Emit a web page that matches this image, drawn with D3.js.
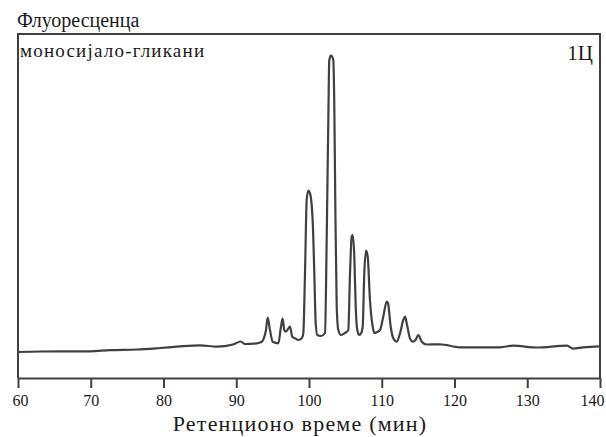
<!DOCTYPE html>
<html>
<head>
<meta charset="utf-8">
<script src="https://cdn.jsdelivr.net/npm/d3@7"></script>
<style>
  body { margin: 0; background: #fff; }
  svg text { font-family: "Liberation Serif", "Times New Roman", "DejaVu Serif", serif; fill: #1a1a1a; }
</style>
</head>
<body>
<div id="chart"></div>
<script>
// retention time (min) and fluorescence (arbitrary units, 0..100 = axis..frame top)
var times = [60.00, 63.02, 69.90, 72.65, 76.36, 79.52, 81.86, 85.02, 87.35, 89.55,
  90.61, 91.20, 92.81, 93.50, 93.81, 94.09, 94.32, 94.64, 95.01, 95.78,
  96.15, 96.38, 96.60, 96.80, 97.39, 97.70, 98.08, 98.53, 99.00, 99.22,
  99.45, 99.68, 99.90, 100.14, 100.51, 100.73, 100.92, 101.14, 101.65, 102.20,
  102.43, 102.65, 102.79, 103.02, 103.34, 103.48, 103.62, 103.81, 104.03, 104.40,
  104.95, 105.40, 105.64, 105.87, 106.01, 106.23, 106.42, 106.64, 106.91, 107.19,
  107.38, 107.60, 107.84, 108.07, 108.38, 108.76, 108.98, 109.35, 109.76, 110.21,
  110.68, 110.86, 111.23, 111.59, 112.06, 112.51, 112.96, 113.20, 113.43, 113.88,
  114.25, 114.64, 115.02, 115.49, 116.18, 118.01, 120.76, 123.09, 126.25, 128.04,
  131.34, 135.46, 136.29, 137.66, 140.00];
var signal = [7.56, 7.70, 7.76, 8.10, 8.28, 8.72, 9.10, 9.51, 9.10, 9.74,
  10.61, 9.88, 10.09, 10.55, 11.63, 13.95, 17.53, 13.95, 10.55, 10.09,
  14.91, 17.24, 13.95, 13.46, 14.91, 12.01, 11.54, 11.05, 11.54, 12.99,
  30.52, 51.74, 54.45, 53.69, 45.44, 30.52, 15.99, 12.50, 12.21, 13.08,
  40.12, 74.13, 92.44, 93.69, 92.44, 78.87, 49.80, 20.73, 13.95, 12.50,
  13.08, 13.95, 30.52, 41.08, 41.57, 35.26, 20.73, 13.95, 12.50, 13.08,
  14.91, 30.52, 37.01, 35.26, 22.67, 14.91, 13.08, 13.37, 13.95, 17.82,
  22.18, 21.72, 14.91, 11.54, 10.55, 12.99, 16.86, 17.82, 15.90, 11.54,
  10.55, 11.05, 12.50, 10.55, 9.74, 9.80, 8.92, 8.92, 8.92, 9.39,
  8.87, 9.39, 8.52, 8.92, 9.22];
var xTicks = [60, 70, 80, 90, 100, 110, 120, 130, 140];

var yTitle = "Флуоресценца";
var xTitle = "Ретенционо време (мин)";
var seriesLabel = "моносијало-гликани";
var panelLabel = "1Ц";

var width = 606, height = 437;
var margin = {top: 34, right: 6, bottom: 59, left: 18};
var innerW = width - margin.left - margin.right,
    innerH = height - margin.top - margin.bottom;

var ink = "#404040";
var serif = "'Liberation Serif', 'Times New Roman', 'DejaVu Serif', serif";

var svg = d3.select("#chart").append("svg")
    .attr("width", width)
    .attr("height", height);

var g = svg.append("g")
    .attr("transform", "translate(" + margin.left + "," + margin.top + ")");

var x = d3.scaleLinear().domain([60, 140]).range([0, innerW]);
var y = d3.scaleLinear().domain([0, 100]).range([innerH, 0]);

// frame (top, left, right)
g.append("path")
    .attr("d", "M0," + innerH + "V0H" + innerW + "V" + innerH)
    .attr("fill", "none")
    .attr("stroke", ink)
    .attr("stroke-width", 2);

// x axis
var xAxis = g.append("g")
    .attr("transform", "translate(0," + innerH + ")")
    .call(d3.axisBottom(x).tickValues(xTicks).tickSize(10).tickPadding(7).tickSizeOuter(0));

xAxis.attr("font-family", serif).attr("font-size", 16);
xAxis.select(".domain").attr("stroke", ink).attr("stroke-width", 2);
xAxis.selectAll(".tick line").attr("stroke", ink).attr("stroke-width", 2);
xAxis.selectAll(".tick text")
    .attr("fill", "#1a1a1a")
    .attr("text-anchor", function(d) { return d === 60 ? "start" : d === 140 ? "end" : "middle"; })
    .attr("dx", function(d) { return d === 60 ? -6 : d === 140 ? 4 : 0; });

// chromatogram
var pts = times.map(function(t, i) { return [t, signal[i]]; });
var line = d3.line()
    .x(function(d) { return x(d[0]); })
    .y(function(d) { return y(d[1]); })
    .curve(d3.curveMonotoneX);

g.append("path")
    .datum(pts)
    .attr("fill", "none")
    .attr("stroke", ink)
    .attr("stroke-width", 2.2)
    .attr("stroke-linejoin", "round")
    .attr("d", line);

// labels
svg.append("text")
    .attr("x", 17).attr("y", 27)
    .attr("font-size", 20)
    .text(yTitle);

svg.append("text")
    .attr("x", 20).attr("y", 57)
    .attr("font-size", 19)
    .attr("letter-spacing", 1.2)
    .text(seriesLabel);

svg.append("text")
    .attr("x", 593).attr("y", 60)
    .attr("text-anchor", "end")
    .attr("font-size", 21)
    .text(panelLabel);

svg.append("text")
    .attr("x", 300).attr("y", 431)
    .attr("text-anchor", "middle")
    .attr("font-size", 22)
    .attr("letter-spacing", 1.2)
    .text(xTitle);
</script>
</body>
</html>
